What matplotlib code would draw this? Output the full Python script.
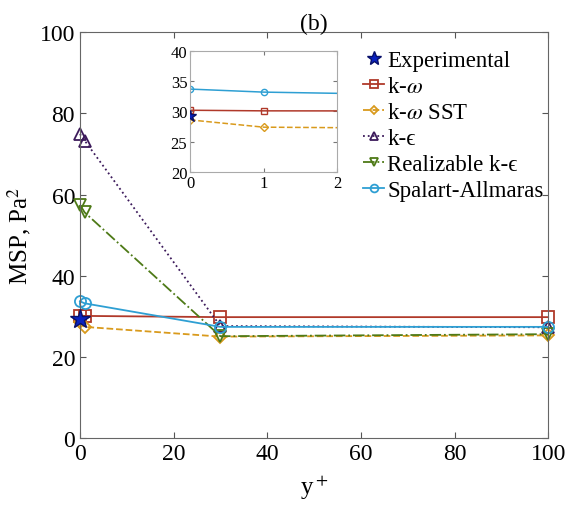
import matplotlib.pyplot as plt

# y+ positions and MSP values
yplus = [0, 1, 30, 100]
exp_x = [0]
exp_y = [29.3]
k_omega = [30.2, 30.1, 29.8, 29.8]
k_omega_sst = [28.6, 27.4, 25.0, 25.3]
k_eps = [74.9, 73.3, 27.6, 27.3]
realizable = [57.5, 55.6, 25.1, 25.6]
spalart = [33.7, 33.2, 27.4, 27.4]

labels = ['k-$\\omega$', 'k-$\\omega$ SST', 'k-\u03f5',
          'Realizable k-\u03f5', 'Spalart-Allmaras']

plt.rcParams['font.family'] = ['Liberation Serif', 'DejaVu Serif']
plt.rcParams['mathtext.fontset'] = 'stix'
plt.rcParams['font.size'] = 14

series = [
    (k_omega, dict(color='#B0392A', ls='-', marker='s')),
    (k_omega_sst, dict(color='#D99A1C', ls='--', marker='D', ms=6)),
    (k_eps, dict(color='#3C1A5B', ls=':', marker='^')),
    (realizable, dict(color='#4E7A17', ls='-.', marker='v')),
    (spalart, dict(color='#2E9FD3', ls='-', marker='o')),
]

fig = plt.figure(figsize=(5.71, 5.10), dpi=100)
ax = fig.add_axes([0.140, 0.139, 0.820, 0.796])

ax.plot(exp_x, exp_y, ls='none', marker='*', ms=15, color='#0A22C0',
        mec='#08106A', label='Experimental', zorder=5, clip_on=False)
for (vals, st), lab in zip(series, labels):
    st = dict(st)
    ax.plot(yplus, vals, lw=1.3, mfc='none', ms=st.pop('ms', 8),
            mew=1.3, label=lab, clip_on=False, **st)

ax.set_xlim(0, 100)
ax.set_ylim(0, 100)
ax.set_xticks([0, 20, 40, 60, 80, 100])
ax.set_yticks([0, 20, 40, 60, 80, 100])
ax.tick_params(direction='in', top=True, right=True, labelsize=17, length=4,
               color='#555555')
for s in ax.spines.values():
    s.set_color('#666666')
ax.set_xlabel('y$^+$', fontsize=18, labelpad=6)
ax.set_ylabel('MSP, Pa$^2$', fontsize=18, labelpad=5)
ax.set_title('(b)', fontsize=17, pad=2)
ax.legend(loc='upper right', frameon=False, fontsize=16.5, handlelength=0.9,
          handletextpad=0.15, labelspacing=0.22, borderaxespad=0.2,
          markerscale=0.7, bbox_to_anchor=(1.02, 0.99))

# inset zoom near the wall
ins = fig.add_axes([0.333, 0.661, 0.257, 0.237])
ins.plot(exp_x, exp_y, ls='none', marker='*', ms=9, color='#0A22C0',
         mec='#08106A', zorder=5)
for (vals, st), lab in zip(series, labels):
    st = dict(st)
    st.pop('ms', None)
    ins.plot(yplus, vals, lw=1.1, mfc='none', ms=4.5, mew=1.0, **st)
ins.set_xlim(0, 2)
ins.set_ylim(20, 40)
ins.set_xticks([0, 1, 2])
ins.set_yticks([20, 25, 30, 35, 40])
ins.tick_params(direction='in', top=True, right=True, labelsize=12, length=3,
                color='#777777', pad=2)
for s in ins.spines.values():
    s.set_color('#aaaaaa')

fig.savefig('out.png', dpi=100)
